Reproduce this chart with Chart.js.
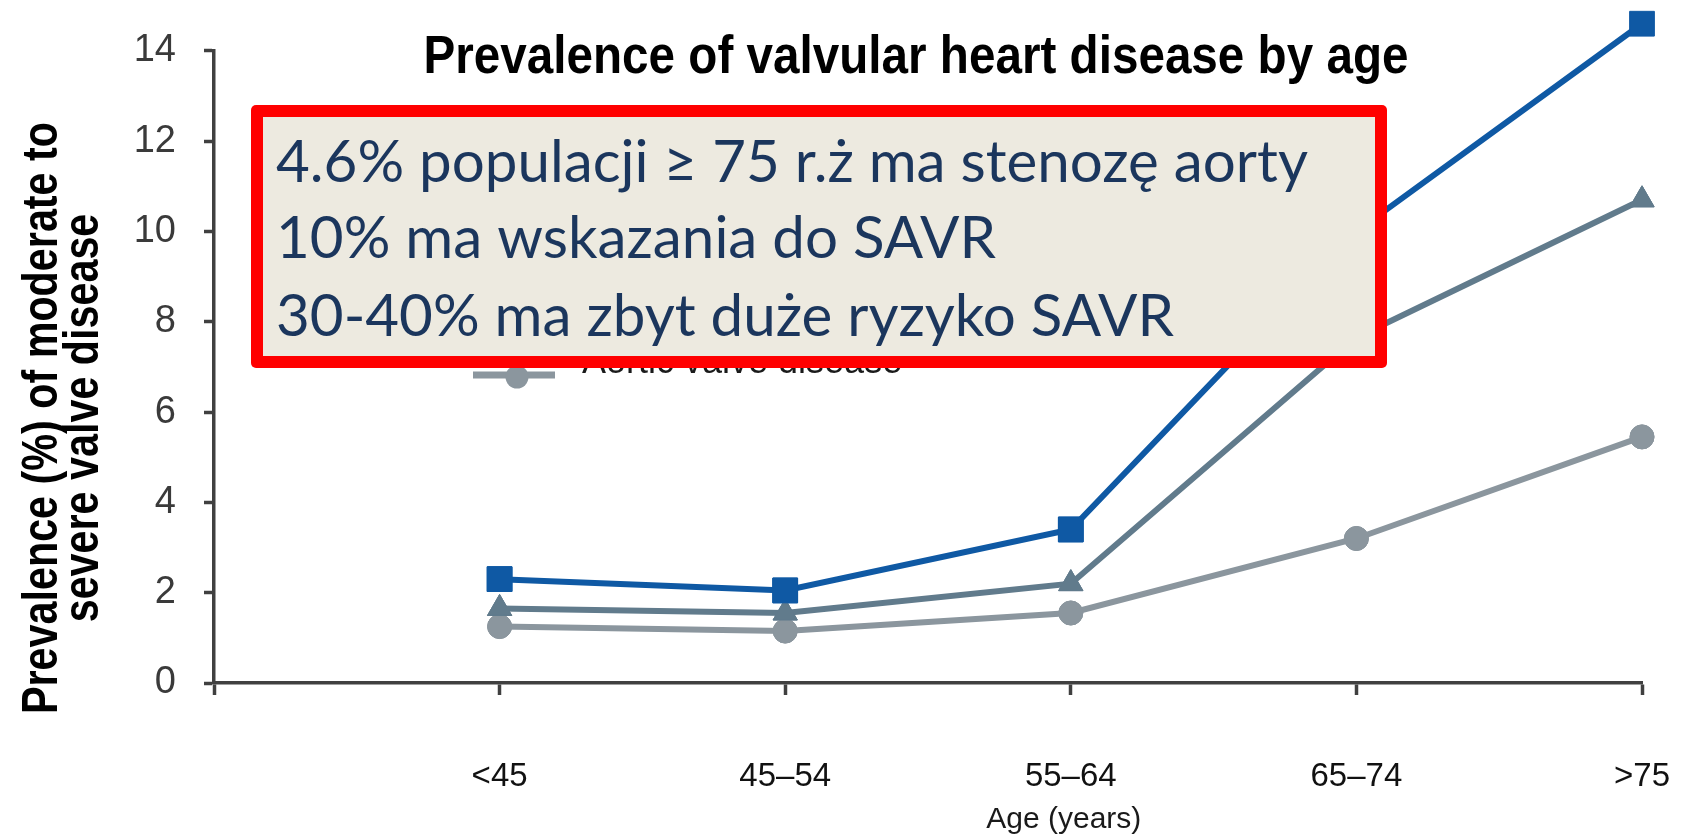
<!DOCTYPE html>
<html>
<head>
<meta charset="utf-8">
<script src="https://cdn.jsdelivr.net/npm/chart.js@4/dist/chart.umd.min.js"></script>
<style>
  html, body { margin: 0; padding: 0; background: #fff; }
  #wrap { width: 1681px; height: 835px; }
</style>
</head>
<body>
<div id="wrap"><canvas id="myChart" width="1681" height="835"></canvas></div>
<script>
// age groups (first slot is the empty origin position)
const ageLabels = ['', '<45', '45–54', '55–64', '65–74', '>75'];

// prevalence (%) of moderate to severe valve disease
const allValve = [null, 2.3, 2.05, 3.4, 10.0, 14.6];
const mitralValve = [null, 1.65, 1.55, 2.2, 7.65, 10.7];
const aorticValve = [null, 1.25, 1.15, 1.55, 3.2, 5.45];

const seriesNames = ['All valve disease', 'Mitral valve disease', 'Aortic valve disease'];
const seriesColors = ['#0f59a4', '#617b8c', '#8b969e'];
const seriesShapes = ['rect', 'triangle', 'circle'];

const boxLines = [
  '4.6% populacji ≥ 75 r.ż ma stenozę aorty',
  '10% ma wskazania do SAVR',
  '30-40% ma zbyt duże ryzyko SAVR'
];

const ARIAL = "'Liberation Sans', Arial, sans-serif";

// draw text squeezed horizontally to a given width
function squeeze(ctx, text, x, y, width, align) {
  const w = ctx.measureText(text).width;
  const sx = width / w;
  ctx.save();
  ctx.translate(x, y);
  ctx.scale(sx, 1);
  ctx.textAlign = align || 'left';
  ctx.fillText(text, 0, 0);
  ctx.restore();
  return sx;
}

// points that sit above the axis top (14.6) get skipped by Chart.js, so redraw all markers unclipped
const markers = {
  id: 'markers',
  afterDatasetsDraw(chart) {
    const full = { left: 0, top: 0, right: chart.width, bottom: chart.height };
    for (let i = chart.data.datasets.length - 1; i >= 0; i--) {
      chart.getDatasetMeta(i).data.forEach(p => p.draw(chart.ctx, full));
    }
  }
};

const overlay = {
  id: 'overlay',
  afterDraw(chart) {
    const ctx = chart.ctx;
    const xs = chart.scales.x;
    ctx.save();
    ctx.textBaseline = 'alphabetic';

    // chart title
    ctx.fillStyle = '#000';
    ctx.font = 'bold 53px ' + ARIAL;
    squeeze(ctx, 'Prevalence of valvular heart disease by age', 916, 73, 985, 'center');

    // y axis title, two rotated lines
    ctx.font = 'bold 50px ' + ARIAL;
    const cy = 418;
    ctx.save();
    ctx.translate(57, cy);
    ctx.rotate(-Math.PI / 2);
    const sy = squeeze(ctx, 'Prevalence (%) of moderate to', 0, 0, 592, 'center');
    ctx.restore();
    ctx.save();
    ctx.translate(98, cy);
    ctx.rotate(-Math.PI / 2);
    ctx.scale(sy, 1);
    ctx.textAlign = 'center';
    ctx.fillText('severe valve disease', 0, 0);
    ctx.restore();

    // x axis title, sits under the 55–64 group
    ctx.fillStyle = '#1a1a1a';
    ctx.font = '30px ' + ARIAL;
    ctx.textAlign = 'center';
    ctx.fillText('Age (years)', xs.getPixelForValue(3) - 7, 828);

    // legend (mostly hidden under the note box)
    for (let i = 0; i < seriesNames.length; i++) {
      const ly = 375 - (seriesNames.length - 1 - i) * 46;
      ctx.strokeStyle = seriesColors[i];
      ctx.lineWidth = 7;
      ctx.beginPath();
      ctx.moveTo(473, ly);
      ctx.lineTo(555, ly);
      ctx.stroke();
      ctx.fillStyle = seriesColors[i];
      ctx.beginPath();
      ctx.arc(517, ly + 2, 11.5, 0, Math.PI * 2);
      ctx.fill();
      ctx.fillStyle = '#1a1a1a';
      ctx.font = '36px ' + ARIAL;
      ctx.textAlign = 'left';
      ctx.fillText(seriesNames[i], 582, ly - 2);
    }

    // note box
    const bx = 251, by = 105, bw = 1136, bh = 263, bt = 12;
    ctx.fillStyle = '#ff0000';
    ctx.beginPath();
    ctx.roundRect(bx, by, bw, bh, 5);
    ctx.fill();
    ctx.fillStyle = '#edeae0';
    ctx.fillRect(bx + bt, by + bt, bw - 2 * bt, bh - 2 * bt);

    ctx.fillStyle = '#1b365d';
    ctx.font = '58px Lato, "Open Sans", sans-serif';
    const w0 = ctx.measureText(boxLines[0]).width;
    const sb = 1032 / w0;
    const baselines = [182, 258, 336];
    boxLines.forEach((t, i) => {
      ctx.save();
      ctx.translate(276, baselines[i]);
      ctx.scale(sb, 1);
      ctx.textAlign = 'left';
      ctx.fillText(t, 0, 0);
      ctx.restore();
    });

    ctx.restore();
  }
};

function makeSet(i, data, radius) {
  return {
    label: seriesNames[i],
    data: data,
    borderColor: seriesColors[i],
    backgroundColor: seriesColors[i],
    pointBackgroundColor: seriesColors[i],
    pointBorderColor: seriesColors[i],
    pointBorderWidth: 1,
    pointStyle: seriesShapes[i],
    pointRadius: radius,
    pointHoverRadius: radius,
    borderWidth: 6,
    tension: 0,
    clip: false,
    order: i
  };
}

const axisColor = '#404040';

const config = {
  type: 'line',
  data: {
    labels: ageLabels,
    datasets: [
      makeSet(0, allValve, 17.5),
      makeSet(1, mitralValve, 14),
      makeSet(2, aorticValve, 12)
    ]
  },
  options: {
    responsive: false,
    animation: false,
    layout: { padding: { top: 50, right: 39, left: 0, bottom: 0 } },
    plugins: {
      legend: { display: false },
      title: { display: false },
      tooltip: { enabled: false }
    },
    scales: {
      x: {
        offset: false,
        grid: {
          drawOnChartArea: false,
          drawTicks: true,
          tickLength: 12,
          tickColor: axisColor,
          tickWidth: 3.5
        },
        border: { display: true, color: axisColor, width: 3.5 },
        ticks: {
          autoSkip: false,
          maxRotation: 0,
          padding: 62,
          color: '#111',
          font: { family: ARIAL, size: 33 }
        },
        afterFit: (s) => {
          s.height = 152;
          s.paddingLeft = 0;
          s.paddingRight = 0;
        }
      },
      y: {
        min: 0,
        max: 14,
        grid: {
          drawOnChartArea: false,
          drawTicks: true,
          tickLength: 10,
          tickColor: axisColor,
          tickWidth: 3.5
        },
        border: { display: true, color: axisColor, width: 3.5 },
        ticks: {
          stepSize: 2,
          padding: 28,
          color: '#3a3a3a',
          font: { family: ARIAL, size: 38 }
        },
        afterFit: (s) => { s.width = 214; }
      }
    }
  },
  plugins: [markers, overlay]
};

const myChart = new Chart(document.getElementById('myChart'), config);
</script>
</body>
</html>
